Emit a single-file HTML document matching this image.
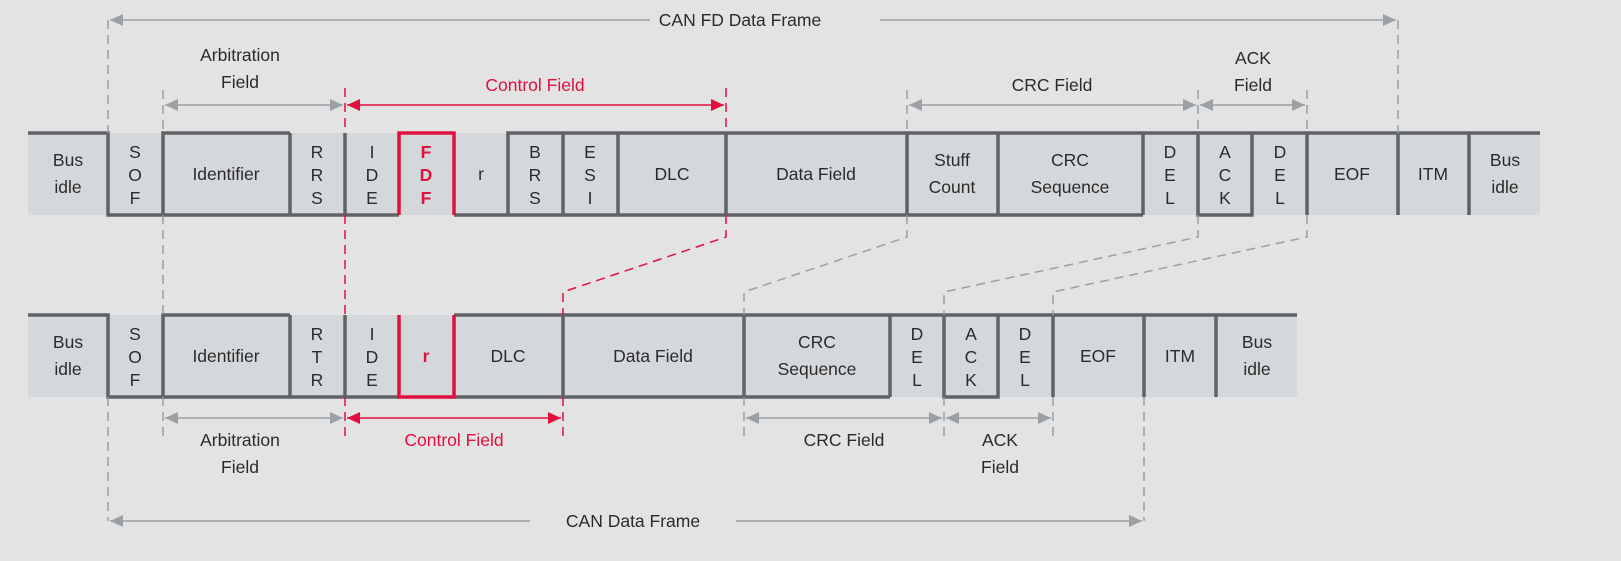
<!DOCTYPE html>
<html><head><meta charset="utf-8"><style>
html,body{margin:0;padding:0;background:#e3e3e3;}
svg{display:block;font-family:"Liberation Sans",sans-serif;}
text{font-size:17.5px;fill:#2b2b2b;text-anchor:middle;}
.r{fill:#e0103f;}
</style></head><body>
<svg width="1621" height="561" viewBox="0 0 1621 561" xmlns="http://www.w3.org/2000/svg">
<defs>
<marker id="ag" markerWidth="14" markerHeight="12" refX="13" refY="6" orient="auto-start-reverse" markerUnits="userSpaceOnUse"><path d="M0,0 L13,6 L0,12 Z" fill="#9aa0a4"/></marker>
<marker id="ar" markerWidth="14" markerHeight="12" refX="13" refY="6" orient="auto-start-reverse" markerUnits="userSpaceOnUse"><path d="M0,0 L13,6 L0,12 Z" fill="#e0103f"/></marker>
</defs>
<!-- cell fills -->
<rect x="28" y="133" width="1512" height="82" fill="#d5d8db"/>
<rect x="28" y="315" width="1269" height="82" fill="#d5d8db"/>
<g fill="none" stroke="#5f6366" stroke-width="3.5">
<!-- top row -->
<path d="M28,133 H108 V215 H163 V133 H290 M163,215 H290 V215 H345 M290,133 V215 M345,133 V215 H399"/>
<path d="M454,215 H508 V133 H1143 M508,215 H1143 M563,133 V215 M618,133 V215 M726,133 V215 M907,133 V215 M998,133 V215 M1143,133 V215 M1143,133 H1540 M1198,133 V215 H1252 V133 M1307,133 V215 M1398,133 V215 M1469,133 V215"/>
<!-- bottom row -->
<path d="M28,315 H108 V397 H163 V315 H290 M163,397 H345 M290,315 V397 M345,315 V397 H399"/>
<path d="M454,397 H890 M454,315 H1297 M563,315 V397 M744,315 V397 M890,315 V397 M944,315 V397 H998 V315 M1053,315 V397 M1144,315 V397 M1216,315 V397"/>
</g>
<g fill="none" stroke="#e0103f" stroke-width="3.5">
<path d="M399,215 V133 H454 V215"/>
<path d="M399,315 V397 H454 V315"/>
</g>
<!-- dashed guides -->
<g fill="none" stroke="#9aa0a4" stroke-width="1.5" stroke-dasharray="9,6">
<path d="M108,20 V133 M1398,20 V133 M163,90 V133 M907,90 V133 M1198,90 V133 M1307,90 V133"/>
<path d="M163,215 V315 M907,215 V237 L744,292 V315 M1198,215 V237 L944,292 V315 M1307,215 V237 L1053,292 V315"/>
<path d="M163,397 V437 M744,397 V437 M944,397 V437 M1053,397 V437 M108,397 V521 M1144,397 V521"/>
</g>
<g fill="none" stroke="#e0103f" stroke-width="1.5" stroke-dasharray="9,6">
<path d="M345,88 V133 M726,88 V133 M345,215 V315 M726,215 V237 L563,292 V315 M345,397 V437 M563,397 V437"/>
</g>
<!-- arrows -->
<g stroke="#9aa0a4" stroke-width="1.5" fill="none">
<path d="M110,20 H650" marker-start="url(#ag)"/><path d="M880,20 H1396" marker-end="url(#ag)"/>
<path d="M165,105 H343" marker-start="url(#ag)" marker-end="url(#ag)"/>
<path d="M909,105 H1196" marker-start="url(#ag)" marker-end="url(#ag)"/>
<path d="M1200,105 H1305" marker-start="url(#ag)" marker-end="url(#ag)"/>
<path d="M165,418 H343" marker-start="url(#ag)" marker-end="url(#ag)"/>
<path d="M746,418 H942" marker-start="url(#ag)" marker-end="url(#ag)"/>
<path d="M946,418 H1051" marker-start="url(#ag)" marker-end="url(#ag)"/>
<path d="M110,521 H530" marker-start="url(#ag)"/><path d="M736,521 H1142" marker-end="url(#ag)"/>
</g>
<g stroke="#e0103f" stroke-width="1.5" fill="none">
<path d="M347,105 H724" marker-start="url(#ar)" marker-end="url(#ar)"/>
<path d="M347,418 H561" marker-start="url(#ar)" marker-end="url(#ar)"/>
</g>
<!-- labels top -->
<text x="740" y="26">CAN FD Data Frame</text>
<text x="240" y="61">Arbitration</text><text x="240" y="88">Field</text>
<text class="r" x="535" y="91">Control Field</text>
<text x="1052" y="91">CRC Field</text>
<text x="1253" y="64">ACK</text><text x="1253" y="91">Field</text>
<!-- top row text -->
<text x="68" y="166">Bus</text><text x="68" y="193">idle</text>
<text x="135" y="158">S</text><text x="135" y="181">O</text><text x="135" y="204">F</text>
<text x="226" y="180">Identifier</text>
<text x="317" y="158">R</text><text x="317" y="181">R</text><text x="317" y="204">S</text>
<text x="372" y="158">I</text><text x="372" y="181">D</text><text x="372" y="204">E</text>
<g style="font-weight:bold"><text class="r" x="426" y="158">F</text><text class="r" x="426" y="181">D</text><text class="r" x="426" y="204">F</text></g>
<text x="481" y="180">r</text>
<text x="535" y="158">B</text><text x="535" y="181">R</text><text x="535" y="204">S</text>
<text x="590" y="158">E</text><text x="590" y="181">S</text><text x="590" y="204">I</text>
<text x="672" y="180">DLC</text>
<text x="816" y="180">Data Field</text>
<text x="952" y="166">Stuff</text><text x="952" y="193">Count</text>
<text x="1070" y="166">CRC</text><text x="1070" y="193">Sequence</text>
<text x="1170" y="158">D</text><text x="1170" y="181">E</text><text x="1170" y="204">L</text>
<text x="1225" y="158">A</text><text x="1225" y="181">C</text><text x="1225" y="204">K</text>
<text x="1280" y="158">D</text><text x="1280" y="181">E</text><text x="1280" y="204">L</text>
<text x="1352" y="180">EOF</text>
<text x="1433" y="180">ITM</text>
<text x="1505" y="166">Bus</text><text x="1505" y="193">idle</text>
<!-- bottom row text -->
<text x="68" y="348">Bus</text><text x="68" y="375">idle</text>
<text x="135" y="340">S</text><text x="135" y="363">O</text><text x="135" y="386">F</text>
<text x="226" y="362">Identifier</text>
<text x="317" y="340">R</text><text x="317" y="363">T</text><text x="317" y="386">R</text>
<text x="372" y="340">I</text><text x="372" y="363">D</text><text x="372" y="386">E</text>
<text class="r" x="426" y="362" style="font-weight:bold">r</text>
<text x="508" y="362">DLC</text>
<text x="653" y="362">Data Field</text>
<text x="817" y="348">CRC</text><text x="817" y="375">Sequence</text>
<text x="917" y="340">D</text><text x="917" y="363">E</text><text x="917" y="386">L</text>
<text x="971" y="340">A</text><text x="971" y="363">C</text><text x="971" y="386">K</text>
<text x="1025" y="340">D</text><text x="1025" y="363">E</text><text x="1025" y="386">L</text>
<text x="1098" y="362">EOF</text>
<text x="1180" y="362">ITM</text>
<text x="1257" y="348">Bus</text><text x="1257" y="375">idle</text>
<!-- bottom labels -->
<text x="240" y="446">Arbitration</text><text x="240" y="473">Field</text>
<text class="r" x="454" y="446">Control Field</text>
<text x="844" y="446">CRC Field</text>
<text x="1000" y="446">ACK</text><text x="1000" y="473">Field</text>
<text x="633" y="527">CAN Data Frame</text>
</svg>
</body></html>
